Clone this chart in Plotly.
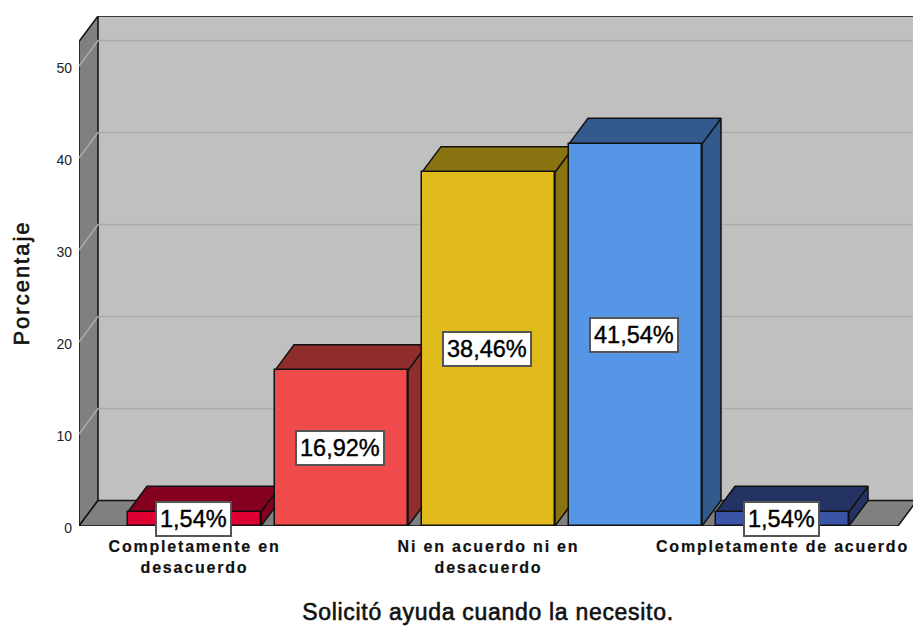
import plotly.graph_objects as go

categories = ["Completamente en desacuerdo", "En desacuerdo", "Ni en acuerdo ni en desacuerdo", "De acuerdo", "Completamente de acuerdo"]
values = [1.54, 16.92, 38.46, 41.54, 1.54]
labels = ["1,54%", "16,92%", "38,46%", "41,54%", "1,54%"]
tick_positions = [0, 2, 4]
tick_labels = ["<b>Completamente en</b><br><b>desacuerdo</b>", "<b>Ni en acuerdo ni en</b><br><b>desacuerdo</b>", "<b>Completamente de acuerdo</b>"]
y_ticks = [0, 10, 20, 30, 40, 50]
front_colors = ["#DC0032", "#F04B4B", "#E1BA1C", "#5596E6", "#3B55A6"]
top_colors = ["#83001E", "#8F2D2D", "#8A7311", "#335A8C", "#243264"]
side_colors = top_colors

FONT = "Liberation Sans"
W, H = 913, 626
L, R, T, B = 79, 0, 16, 100
PX_X = 147.0          # pixels per category
PX_Y = 9.2            # pixels per percent
X0 = 194.5            # pixel centre of the first category
XR = [(L - X0) / PX_X, (W - R - X0) / PX_X]
YR = [0, (H - T - B) / PX_Y]
DX = 19 / PX_X        # depth of the 3-D box in data units
DY = 25.5 / PX_Y
BW = 133 / PX_X
FRONT_TOP = YR[1] - DY
FLOOR_RIGHT = XR[1] - 15 / PX_X
GRID = "#ABABAB"
EDGE = "#111111"

fig = go.Figure()


def poly(xs, ys, fill, line=EDGE, width=1.5):
    fig.add_trace(go.Scatter(x=xs + xs[:1], y=ys + ys[:1], mode="lines", fill="toself",
                             fillcolor=fill, line=dict(color=line, width=width),
                             hoverinfo="skip", showlegend=False, cliponaxis=False,
                             xaxis="x", yaxis="y"))


def seg(xs, ys, color, width=1.5):
    fig.add_trace(go.Scatter(x=xs, y=ys, mode="lines", line=dict(color=color, width=width),
                             hoverinfo="skip", showlegend=False, cliponaxis=False,
                             xaxis="x", yaxis="y"))


# walls and floor
poly([XR[0] + DX, XR[1] + DX, XR[1] + DX, XR[0] + DX], [DY, DY, YR[1], YR[1]], "#C0C0C0", line="#C0C0C0", width=0)
poly([XR[0], XR[0] + DX, XR[0] + DX, XR[0]], [0, DY, YR[1], FRONT_TOP], "#808080")
poly([XR[0], XR[0] + DX, FLOOR_RIGHT + DX, FLOOR_RIGHT], [0, DY, DY, 0], "#808080")
seg([XR[0] + DX, XR[1]], [YR[1], YR[1]], EDGE)

# grid lines on the left wall and back wall
for t in y_ticks[1:]:
    seg([XR[0], XR[0] + DX, XR[1]], [t, t + DY, t + DY], GRID, 1.5)

# side and top faces of each bar
for i, v in enumerate(values):
    xl, xr = i - BW / 2, i + BW / 2
    poly([xr, xr + DX, xr + DX, xr], [0, DY, v + DY, v], side_colors[i])
    poly([xl, xl + DX, xr + DX, xr], [v, v + DY, v + DY, v], top_colors[i])

# front faces of the bars, on an overlay so they cover the neighbouring side faces
fig.add_trace(go.Bar(x=list(range(len(values))), y=values, width=BW, marker=dict(color=front_colors, line=dict(color=EDGE, width=1.5)),
                     hovertext=categories, hoverinfo="text+y", showlegend=False, xaxis="x2", yaxis="y2"))

for i, (v, txt) in enumerate(zip(values, labels)):
    fig.add_annotation(x=i - 0.007, y=v / 2, xref="x2", yref="y2", text=txt, showarrow=False,
                       font=dict(family=FONT, size=23.5, color="#000000"),
                       bgcolor="#FFFFFF", bordercolor="#555555", borderwidth=2, borderpad=3)

fig.update_layout(
    width=W, height=H, margin=dict(l=L, r=R, t=T, b=B), paper_bgcolor="#FFFFFF", plot_bgcolor="#FFFFFF",
    showlegend=False, bargap=0,
    xaxis=dict(range=XR, tickmode="array", tickvals=tick_positions, ticktext=tick_labels, showgrid=False, zeroline=False,
               showline=False, ticks="", tickfont=dict(family=FONT, size=16, color="#111111"), tickangle=0, ticklabelstandoff=9,
               title=dict(text="Solicitó ayuda cuando la necesito.", font=dict(family=FONT, size=23, color="#111111"), standoff=29)),
    yaxis=dict(range=YR, tickmode="array", tickvals=y_ticks, showgrid=False, zeroline=False, showline=False,
               ticks="", ticklabelstandoff=6, tickfont=dict(family=FONT, size=14, color="#222222"),
               title=dict(text="Porcentaje", font=dict(family=FONT, size=22, color="#111111"), standoff=20)),
    xaxis2=dict(range=XR, overlaying="x", visible=False, anchor="y2"),
    yaxis2=dict(range=YR, overlaying="y", visible=False, anchor="x2"),
)

# page without the default body margin, SPSS-like wider lettering for the axis texts
post = """
document.body.style.margin = '0';
var st = document.createElement('style');
st.textContent = '.xtick text{letter-spacing:1.8px;stroke:#111;stroke-width:.2px}'
  + '.ytitle{letter-spacing:2px;stroke:#111;stroke-width:.6px}'
  + '.xtitle{letter-spacing:.7px;stroke:#111;stroke-width:.6px}'
  + '.annotation-text{stroke:#000;stroke-width:.4px}';
document.head.appendChild(st);
document.querySelectorAll('.ytick text').forEach(function(t){ t.setAttribute('y', parseFloat(t.getAttribute('y')) + 2); });
var xt = document.querySelector('.xtitle');
if (xt) { xt.setAttribute('x', parseFloat(xt.getAttribute('x')) - 8); }
var yt = document.querySelector('.ytitle');
if (yt) {
  var tx = parseFloat(yt.getAttribute('x')), ty = parseFloat(yt.getAttribute('y')) + 12;
  yt.setAttribute('y', ty);
  yt.setAttribute('transform', 'rotate(-90,' + tx + ',' + ty + ')');
}
"""
fig.write_html("out.html", config=dict(displayModeBar=False), post_script=post)
